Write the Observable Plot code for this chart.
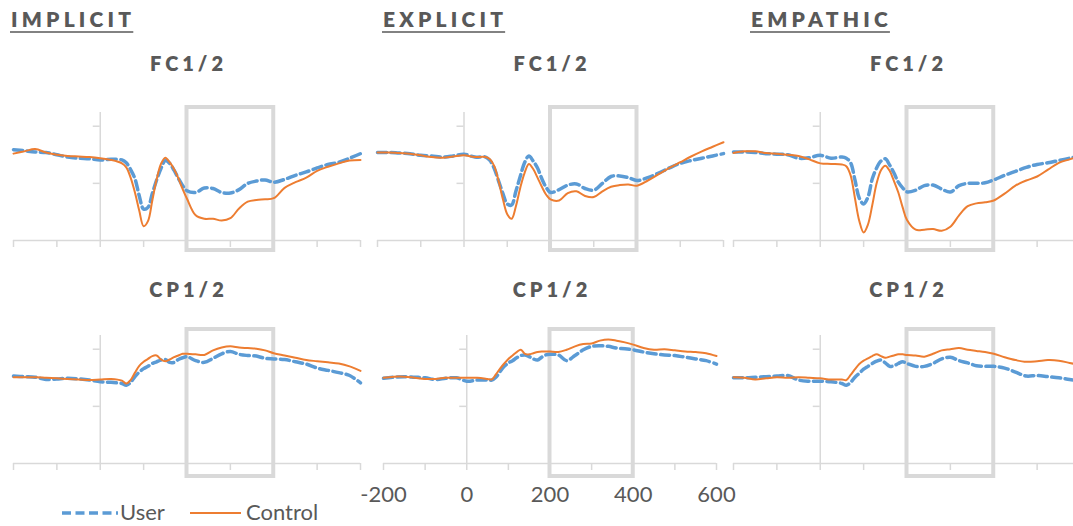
<!DOCTYPE html>
<html><head><meta charset="utf-8">
<script src="https://cdn.jsdelivr.net/npm/d3@7"></script>
<script src="https://cdn.jsdelivr.net/npm/@observablehq/plot@0.6"></script>
<style>
html,body{margin:0;padding:0;background:#fff;overflow:hidden;}
#root{position:relative;width:1073px;height:526px;overflow:hidden;font-family:Lato,"Open Sans",sans-serif;color:#595959;}
.panel{position:absolute;}
.panel svg{max-width:none !important;}
</style></head>
<body><div id="root"></div>
<script>
// time grid (ms)
const T = [-200,-175,-150,-125,-100,-75,-50,-25,0,25,50,
  60,70,80,90,100,110,120,130,140,150,160,170,180,190,200,
  220,240,260,280,300,320,340,360,380,400,
  425,450,475,500,525,550,575,600];

const conditions = ["IMPLICIT","EXPLICIT","EMPATHIC"];
const electrodes = ["FC1/2","CP1/2"];
const seriesNames = ["User","Control"];
const xTicks = [-200,-100,0,100,200,300,400,500,600];
const xTickLabels = [-200,0,200,400,600];
const yTicks = [0,5];
const windowMs = [200,400];

const implicitFC_user = [2.95,2.85,2.75,2.7,2.5,2.3,2.2,2.15,2.05,2.1,2.05,
  1.8,1.2,0.4,-1.1,-2.25,-2.1,-0.9,0.3,1.3,2.0,1.75,1.15,0.45,-0.2,-0.65,
  -0.8,-0.4,-0.45,-0.8,-0.85,-0.55,0.0,0.2,0.3,0.1,
  0.35,0.7,1.0,1.35,1.65,1.85,2.2,2.6];
const implicitFC_control = [2.6,2.8,3.0,2.7,2.5,2.4,2.35,2.3,2.2,2.05,1.75,
  1.4,0.5,-0.8,-2.4,-3.75,-3.3,-1.5,0.35,1.7,2.25,1.85,1.25,0.45,-0.5,-1.35,
  -2.8,-3.1,-3.1,-3.25,-3.05,-2.2,-1.6,-1.45,-1.4,-1.3,
  -0.4,0.1,0.5,1.1,1.45,1.75,2.0,2.05];
const explicitFC_user = [2.7,2.7,2.65,2.6,2.45,2.4,2.3,2.4,2.55,2.3,2.3,
  2.0,1.3,0.2,-0.9,-1.8,-1.9,-0.7,0.6,1.8,2.4,1.95,1.35,0.4,-0.35,-0.8,
  -0.55,-0.15,-0.05,-0.45,-0.6,0.0,0.6,0.65,0.5,0.25,
  0.5,0.9,1.35,1.75,2.0,2.2,2.4,2.6];
const explicitFC_control = [2.7,2.7,2.65,2.6,2.45,2.3,2.25,2.35,2.45,2.3,2.3,
  2.1,1.5,0.2,-1.4,-2.7,-3.1,-2.0,-0.4,0.9,1.7,1.25,0.5,-0.3,-1.0,-1.4,
  -1.5,-0.85,-0.7,-1.1,-1.2,-0.7,-0.3,-0.15,-0.1,-0.2,
  0.25,0.8,1.35,1.85,2.35,2.8,3.2,3.6];
const empathicFC_user = [2.75,2.75,2.7,2.6,2.55,2.5,2.2,2.25,2.45,2.2,2.3,
  2.2,1.8,0.3,-1.3,-1.8,-1.2,0.4,1.35,1.95,2.15,1.6,0.9,0.1,-0.4,-0.75,
  -0.6,-0.2,-0.15,-0.5,-0.75,-0.2,0.0,0.0,0.05,0.3,
  0.7,1.05,1.4,1.65,1.8,2.0,2.2,2.4];
const empathicFC_control = [2.65,2.8,2.8,2.65,2.6,2.5,2.4,2.1,1.75,1.7,1.65,
  1.5,0.7,-1.3,-3.3,-4.3,-3.6,-1.9,0.0,1.15,1.55,1.1,0.2,-0.8,-2.1,-3.2,
  -4.05,-4.05,-4.0,-4.15,-3.8,-2.8,-2.0,-1.75,-1.65,-1.5,
  -0.9,-0.2,0.25,0.6,1.2,1.8,2.1,2.4];

const implicitCP_user = [2.65,2.6,2.55,2.35,2.4,2.45,2.4,2.3,2.15,2.1,2.0,
  1.85,2.1,2.6,3.0,3.3,3.5,3.75,3.9,4.05,4.1,3.85,3.85,4.1,4.25,4.35,
  4.0,3.85,4.2,4.6,4.8,4.55,4.45,4.4,4.2,4.15,
  4.1,3.9,3.7,3.35,3.15,2.95,2.7,2.05];
const implicitCP_control = [2.55,2.55,2.55,2.5,2.45,2.4,2.35,2.3,2.35,2.4,2.25,
  2.0,2.3,2.95,3.55,3.9,4.15,4.4,4.45,4.1,3.95,4.1,4.3,4.45,4.6,4.6,
  4.55,4.5,4.9,5.15,5.25,5.15,5.1,5.05,4.9,4.65,
  4.45,4.25,4.05,3.95,3.85,3.75,3.5,3.1];
const explicitCP_user = [2.45,2.55,2.6,2.55,2.5,2.35,2.45,2.5,2.2,2.3,2.3,
  2.3,2.55,3.05,3.5,3.8,4.0,4.25,4.45,4.5,4.35,4.15,4.05,4.3,4.5,4.55,
  4.5,4.0,4.45,4.95,5.25,5.3,5.25,5.1,5.05,4.95,
  4.75,4.6,4.5,4.45,4.3,4.15,4.0,3.7];
const explicitCP_control = [2.5,2.6,2.6,2.5,2.4,2.4,2.5,2.5,2.5,2.5,2.4,
  2.35,2.8,3.3,3.75,4.15,4.45,4.75,4.95,4.6,4.55,4.65,4.75,4.8,4.8,4.8,
  4.75,4.95,5.25,5.45,5.5,5.75,5.85,5.75,5.6,5.4,
  5.1,4.95,5.0,4.9,4.8,4.75,4.65,4.4];
const empathicCP_user = [2.5,2.5,2.55,2.6,2.65,2.7,2.3,2.2,2.2,2.15,2.0,
  1.85,2.1,2.55,2.9,3.25,3.5,3.75,3.95,4.05,3.8,3.5,3.55,3.75,3.9,3.75,
  3.5,3.5,3.75,4.15,4.3,4.0,3.8,3.55,3.5,3.5,
  3.35,3.0,2.65,2.7,2.6,2.5,2.35,2.25];
const empathicCP_control = [2.55,2.5,2.35,2.45,2.55,2.5,2.55,2.5,2.45,2.35,2.35,
  2.3,2.75,3.25,3.7,4.0,4.2,4.4,4.55,4.4,4.25,4.35,4.45,4.55,4.55,4.5,
  4.45,4.35,4.6,4.9,5.0,5.1,4.95,4.85,4.75,4.6,
  4.3,4.05,3.9,3.95,4.05,4.0,3.8,3.6];

const BLUE = "#5B9BD5", ORANGE = "#ED7D31", AXIS = "#d9d9d9", TEXT = "#595959";
const DASH = "9,4.5";

const rows = [
  {frameTop:112, frameBottom:240, boxTop:-5, boxBottom:-10, svgTop:95},
  {frameTop:335, frameBottom:463, boxTop:-6, boxBottom:-13, svgTop:318}
];
const panels = [
  {row:0, x0:13,  x1:360,  user:implicitFC_user,  ctrl:implicitFC_control},
  {row:0, x0:377, x1:723,  user:explicitFC_user,  ctrl:explicitFC_control},
  {row:0, x0:733, x1:1080, user:empathicFC_user,  ctrl:empathicFC_control},
  {row:1, x0:13,  x1:360,  user:implicitCP_user,  ctrl:implicitCP_control},
  {row:1, x0:383, x1:716,  user:explicitCP_user,  ctrl:explicitCP_control, labels:true},
  {row:1, x0:733, x1:1080, user:empathicCP_user,  ctrl:empathicCP_control}
];

const root = document.getElementById("root");
const M = 30;
for (const p of panels) {
  const r = rows[p.row];
  const mt = r.frameTop - r.svgTop;
  const mb = 50;
  const h = mt + (r.frameBottom - r.frameTop) + mb;
  const w = (p.x1 - p.x0) + 2*M;
  const userData = T.map((t,i)=>({t, v:p.user[i], s:seriesNames[0]}));
  const ctrlData = T.map((t,i)=>({t, v:p.ctrl[i], s:seriesNames[1]}));
  const chart = Plot.plot({
    width: w,
    height: h,
    marginLeft: M, marginRight: M, marginTop: mt, marginBottom: mb,
    style: {overflow:"visible", background:"transparent", fontFamily:"Lato, 'Open Sans', sans-serif", maxWidth:"none"},
    x: {domain:[-200,600], axis:null},
    y: {domain:[-5,6.2], axis:null},
    marks: [
      Plot.ruleY([-5], {stroke:AXIS, strokeWidth:1.5}),
      Plot.ruleX([0], {stroke:AXIS, strokeWidth:1.5}),
      Plot.ruleY(yTicks, {x1:0, x2:0, insetLeft:-7, stroke:AXIS, strokeWidth:1.5}),
      Plot.axisX({ticks:xTicks, tickSize:7, stroke:AXIS, strokeWidth:1.5, strokeOpacity:1,
        tickPadding:16, fontSize:22, fill:TEXT, label:null,
        tickFormat: p.labels ? (d => xTickLabels.includes(d) ? String(d) : "") : (() => "")}),
      Plot.rect([windowMs], {x1:d=>d[0], x2:d=>d[1], y1:-5, y2:6.2, fill:"none", stroke:AXIS, strokeWidth:4,
        insetTop:r.boxTop, insetBottom:r.boxBottom}),
      Plot.line(userData, {x:"t", y:"v", stroke:BLUE, strokeWidth:3.5, strokeDasharray:DASH, curve:"catmull-rom"}),
      Plot.line(ctrlData, {x:"t", y:"v", stroke:ORANGE, strokeWidth:2, curve:"catmull-rom"})
    ]
  });
  const div = document.createElement("div");
  div.className = "panel";
  div.style.left = (p.x0 - M) + "px";
  div.style.top = r.svgTop + "px";
  div.style.width = w + "px";
  div.style.height = h + "px";
  div.appendChild(chart);
  root.appendChild(div);
}

// overlay text
const ov = d3.select(root).append("svg")
  .attr("width",1073).attr("height",526)
  .style("position","absolute").style("left","0px").style("top","0px")
  .style("overflow","visible");

const condX = [11, 383, 751];
conditions.forEach((c,i) => {
  const t = ov.append("text").attr("x",condX[i]).attr("y",27)
    .attr("fill",TEXT).attr("font-size",21).attr("font-weight",800)
    .style("letter-spacing","4.2px").text(c);
  const w = t.node().getComputedTextLength();
  ov.append("line").attr("x1",condX[i]-1).attr("x2",condX[i]+w-2)
    .attr("y1",32).attr("y2",32).attr("stroke",TEXT).attr("stroke-width",1.5);
});
const centers = [186.5, 550, 906.5];
[71, 297].forEach((y,ri) => {
  centers.forEach(cx => {
    ov.append("text").attr("x",cx+2).attr("y",y).attr("text-anchor","middle")
      .attr("fill",TEXT).attr("font-size",20).attr("font-weight",800)
      .style("letter-spacing","4px").text(electrodes[ri]);
  });
});
// legend
ov.append("line").attr("x1",62).attr("x2",118).attr("y1",513).attr("y2",513)
  .attr("stroke",BLUE).attr("stroke-width",3.5).attr("stroke-dasharray",DASH);
ov.append("text").attr("x",120).attr("y",520).attr("fill",TEXT).attr("font-size",22).text(seriesNames[0]);
ov.append("line").attr("x1",190).attr("x2",241).attr("y1",513).attr("y2",513)
  .attr("stroke",ORANGE).attr("stroke-width",2);
ov.append("text").attr("x",246).attr("y",520).attr("fill",TEXT).attr("font-size",22).text(seriesNames[1]);
</script>
</body></html>
